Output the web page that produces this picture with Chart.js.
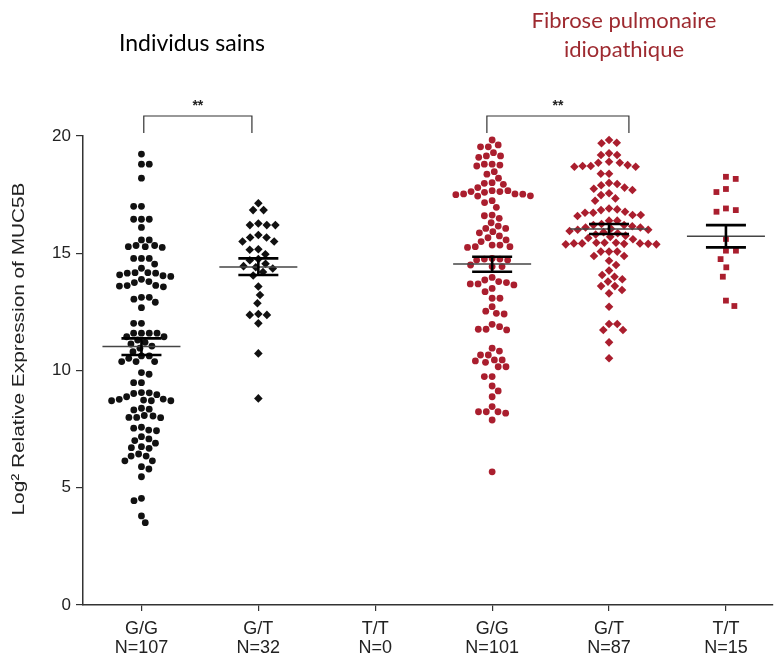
<!DOCTYPE html>
<html>
<head>
<meta charset="utf-8">
<script src="https://cdn.jsdelivr.net/npm/chart.js@4.4.1/dist/chart.umd.min.js"></script>
<style>
  body { margin: 0; background: #fff; }
  #wrap { width: 777px; height: 662px; position: relative; }
</style>
</head>
<body>
<div id="wrap"><canvas id="myChart"></canvas></div>
<script>
// categories and tick labels
const genotypes = ['G/G', 'G/T', 'T/T', 'G/G', 'G/T', 'T/T'];
const counts = ['N=107', 'N=32', 'N=0', 'N=101', 'N=87', 'N=15'];
const yTicks = [0, 5, 10, 15, 20];

// values (log2 relative expression of MUC5B)
const sainsGG = [19.23, 18.8, 18.8, 18.2, 17.0, 17.0, 16.45, 16.45, 16.45, 16.1, 15.57, 15.57,
  15.33, 15.28, 15.25, 15.28, 15.33, 14.78, 14.78, 14.78, 14.54, 14.36, 14.17, 14.15, 14.04, 14.01,
  14.08, 14.15, 14.17, 13.89, 13.75, 13.62, 13.57, 13.6, 13.63, 13.79, 13.12, 13.04, 12.91, 13.12,
  12.68, 12.01, 12.01, 11.59, 11.59, 11.59, 11.59, 11.44, 11.44, 11.3, 11.2, 11.13, 11.04, 10.95,
  10.8, 10.62, 10.62, 10.52, 10.38, 10.38, 10.38, 9.91, 9.84, 9.48, 9.48, 9.05, 8.97, 8.78, 8.74,
  8.71, 8.71, 8.71, 8.77, 8.88, 9.02, 9.06, 8.35, 8.06, 8.0, 7.99, 8.0, 8.08, 8.32, 8.39, 7.54, 7.43,
  7.46, 7.58, 7.18, 7.01, 7.08, 6.75, 6.68, 6.71, 6.9, 6.35, 6.44, 6.35, 6.15, 6.15, 5.9, 5.8, 5.47,
  4.55, 4.45, 3.8, 3.51];
const sainsGT = [17.13, 16.84, 16.84, 16.2, 16.2, 16.2, 16.27, 15.67, 15.5, 15.5, 15.67, 15.78,
  15.17, 15.15, 14.96, 14.75, 14.7, 14.55, 14.45, 14.4, 14.35, 14.2, 14.05, 13.58, 13.22, 12.87,
  12.37, 12.41, 12.37, 12.01, 10.73, 8.81];
const sainsTT = [];
const fpiGG = [19.83, 19.54, 19.54, 19.62, 19.15, 19.09, 19.15, 19.29, 18.8, 18.72, 18.76, 18.8,
  18.37, 18.48, 18.2, 18.01, 17.98, 17.8, 17.94, 17.53, 17.45, 17.67, 17.44, 17.63, 17.6, 17.63,
  17.5, 17.67, 17.52, 17.53, 17.16, 17.24, 16.96, 16.63, 16.6, 16.49, 16.3, 16.06, 16.06, 16.16,
  15.92, 15.87, 15.74, 15.66, 15.57, 15.5, 15.35, 15.28, 15.25, 15.28, 15.35, 14.75, 14.75, 14.71,
  14.71, 14.78, 14.43, 14.43, 14.5, 13.86, 13.75, 13.69, 13.65, 13.69, 13.79, 13.97, 13.36, 13.5,
  13.08, 13.08, 12.72, 12.44, 12.41, 12.53, 11.97, 11.76, 11.73, 11.76, 11.87, 10.95, 10.83, 10.66,
  10.66, 10.45, 10.41, 10.45, 10.35, 10.16, 10.16, 9.74, 9.74, 9.34, 9.13, 8.88, 8.46, 8.24, 8.24,
  8.18, 8.24, 7.89, 5.68];
const fpiGT = [19.83, 19.69, 19.71, 19.26, 19.19, 19.19, 18.9, 18.86, 18.86, 18.76, 18.72, 18.72,
  18.69, 18.69, 18.39, 18.39, 18.0, 17.75, 17.9, 17.95, 17.8, 17.7, 17.56, 17.48, 17.34, 17.24,
  16.91, 16.84, 16.73, 16.63, 16.59, 16.63, 16.73, 16.77, 16.87, 16.39, 16.39, 16.25, 16.2, 16.2,
  16.15, 16.1, 16.1, 16.05, 16.0, 16.0, 15.95, 15.9, 15.85, 15.8, 15.75, 15.7, 15.65, 15.6, 15.42,
  15.45, 15.4, 15.38, 15.42, 15.45, 15.4, 15.38, 15.42, 15.45, 15.07, 14.88, 15.07, 14.88, 15.07,
  14.68, 14.5, 14.26, 14.07, 13.89, 13.79, 14.0, 13.6, 13.6, 13.43, 13.29, 12.72, 11.98, 11.98,
  11.73, 11.73, 11.2, 10.52];
const fpiTT = [18.17, 18.26, 17.74, 17.61, 16.91, 16.77, 16.84, 15.61, 15.11, 15.11, 14.75, 14.4,
  14.0, 12.98, 12.75];

// mean and SEM limits
const means = [11.02, 14.41, null, 14.54, 16.03, 15.72];
const semHigh = [11.37, 14.78, null, 14.85, 16.25, 16.2];
const semLow = [10.66, 14.07, null, 14.21, 15.82, 15.25];

const groupValues = [sainsGG, sainsGT, sainsTT, fpiGG, fpiGT, fpiTT];

const BLACK = '#111111';
const RED = '#aa1e2e';
const colors = [BLACK, BLACK, BLACK, RED, RED, RED];
const shapes = ['circle', 'rectRot', 'circle', 'circle', 'rectRot', 'rect'];
const radii = [3.4, 4.3, 3.4, 3.4, 4.3, 4.1];
const gaps = [7.8, 8.6, 7.8, 7.8, 8.2, 10];

// beeswarm layout: each point goes to the nearest free spot beside the centre line
function swarm(vals, pxPerY, d) {
    var order = vals.map((v, i) => i).sort((a, b) => vals[b] - vals[a]);
    var placed = [];
    var offs = new Array(vals.length);
    var flip = false;
    order.forEach(function (i) {
        var y = vals[i] * pxPerY;
        var near = placed.filter(p => Math.abs(p.y - y) < d);
        var cands = [0];
        near.forEach(function (p) {
            var dx = Math.sqrt(d * d - (p.y - y) * (p.y - y));
            cands.push(p.x + dx, p.x - dx);
        });
        cands.sort((a, b) => (Math.abs(a) - Math.abs(b)) || (flip ? a - b : b - a));
        var x = cands.find(c => near.every(p => (p.x - c) * (p.x - c) + (p.y - y) * (p.y - y) >= d * d - 0.01));
        if (x !== 0) flip = !flip;
        placed.push({ x: x, y: y });
        offs[i] = x;
    });
    return offs;
}

const extras = {
    id: 'extras',
    afterDatasetsDraw(chart) {
        const ctx = chart.ctx, xs = chart.scales.x, ys = chart.scales.y;
        means.forEach(function (m, g) {
            if (m == null) return;
            const cx = xs.getPixelForValue(g);
            ctx.save();
            ctx.strokeStyle = '#444';
            ctx.lineWidth = 1.5;
            ctx.beginPath();
            ctx.moveTo(cx - 39, ys.getPixelForValue(m));
            ctx.lineTo(cx + 39, ys.getPixelForValue(m));
            ctx.stroke();
            ctx.strokeStyle = '#000';
            ctx.lineWidth = 2.6;
            const hi = ys.getPixelForValue(semHigh[g]), lo = ys.getPixelForValue(semLow[g]);
            ctx.beginPath();
            ctx.moveTo(cx - 20, hi); ctx.lineTo(cx + 20, hi);
            ctx.moveTo(cx - 20, lo); ctx.lineTo(cx + 20, lo);
            ctx.moveTo(cx, hi); ctx.lineTo(cx, lo);
            ctx.stroke();
            ctx.restore();
        });
    },
    afterDraw(chart) {
        const ctx = chart.ctx, xs = chart.scales.x;
        ctx.save();
        // group titles
        ctx.textAlign = 'center';
        ctx.textBaseline = 'alphabetic';
        ctx.font = '23px Lato';
        ctx.fillStyle = '#000';
        ctx.fillText('Individus sains', 192, 51);
        ctx.font = '22px Lato';
        ctx.fillStyle = '#9e2a30';
        ctx.fillText('Fibrose pulmonaire', 624, 28);
        ctx.fillText('idiopathique', 624, 57);

        // significance brackets
        [[0.02, 0.945], [2.955, 4.17]].forEach(function (b) {
            const x1 = xs.getPixelForValue(b[0]), x2 = xs.getPixelForValue(b[1]);
            ctx.strokeStyle = '#333';
            ctx.lineWidth = 1.2;
            ctx.beginPath();
            ctx.moveTo(x1, 133); ctx.lineTo(x1, 116); ctx.lineTo(x2, 116); ctx.lineTo(x2, 133);
            ctx.stroke();
            ctx.fillStyle = '#222';
            ctx.font = 'bold 14px "Liberation Sans"';
            ctx.fillText('**', (x1 + x2) / 2, 110);
        });

        // y axis title, stretched to the length it has in the figure
        const label = 'Log\u00b2 Relative Expression of MUC5B';
        ctx.translate(19, 349);
        ctx.rotate(-Math.PI / 2);
        ctx.fillStyle = '#222';
        ctx.font = '17px "Liberation Sans"';
        ctx.textBaseline = 'middle';
        ctx.scale(333 / ctx.measureText(label).width, 1);
        ctx.fillText(label, 0, 0);
        ctx.restore();
    }
};

const ctx = document.getElementById('myChart');
const chart = new Chart(ctx, {
    type: 'scatter',
    data: {
        datasets: groupValues.map((vals, g) => ({
            data: vals.map(v => ({ x: g, y: v })),
            pointStyle: shapes[g],
            pointRadius: radii[g],
            pointHoverRadius: radii[g],
            backgroundColor: colors[g],
            borderColor: colors[g],
            borderWidth: 0,
            clip: false
        }))
    },
    options: {
        responsive: true,
        maintainAspectRatio: false,
        animation: false,
        layout: { padding: { top: 136, right: 4, left: 0, bottom: 0 } },
        plugins: {
            legend: { display: false },
            tooltip: { enabled: false }
        },
        scales: {
            x: {
                type: 'linear',
                min: -0.5,
                max: 5.4,
                afterBuildTicks: s => { s.ticks = genotypes.map((_, i) => ({ value: i })); },
                afterFit: s => { s.height = 57; },
                grid: { display: true, drawOnChartArea: false, drawTicks: true, tickLength: 6, color: '#333', lineWidth: 1.2 },
                border: { display: true, color: '#333', width: 1.5 },
                ticks: {
                    autoSkip: false,
                    maxRotation: 0,
                    padding: 9,
                    color: '#222',
                    font: { family: 'Liberation Sans', size: 18, lineHeight: 1.05 },
                    callback: (v, i) => [genotypes[i], counts[i]]
                }
            },
            y: {
                min: 0,
                max: 20,
                afterBuildTicks: s => { s.ticks = yTicks.map(v => ({ value: v })); },
                afterFit: s => { s.width = 83; },
                grid: { display: true, drawOnChartArea: false, drawTicks: true, tickLength: 7, color: '#333', lineWidth: 1.2 },
                border: { display: true, color: '#333', width: 1.5 },
                ticks: {
                    padding: 5,
                    color: '#222',
                    font: { family: 'Liberation Sans', size: 17 }
                }
            }
        }
    },
    plugins: [extras]
});

const pxX = chart.scales.x.getPixelForValue(1) - chart.scales.x.getPixelForValue(0);
const pxY = chart.scales.y.getPixelForValue(0) - chart.scales.y.getPixelForValue(1);
chart.data.datasets.forEach(function (ds, g) {
    const offs = swarm(groupValues[g], pxY, gaps[g]);
    ds.data = groupValues[g].map((v, i) => ({ x: g + offs[i] / pxX, y: v }));
});
chart.update('none');
</script>
</body>
</html>
